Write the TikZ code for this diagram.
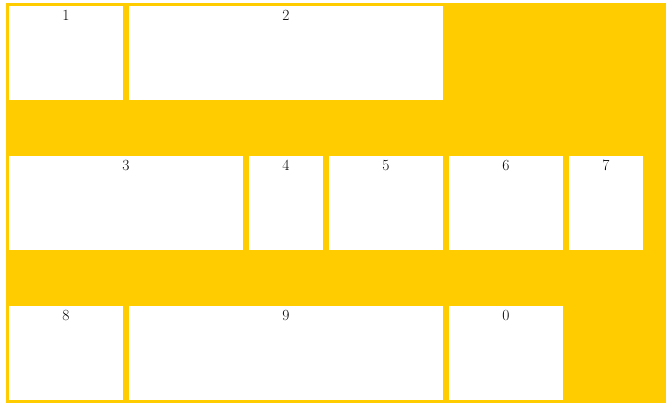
\documentclass[tikz,border=0pt]{standalone}
\begin{document}
\begin{tikzpicture}[
    x=1pt, y=-1pt,
    cell/.style={fill=white, inner sep=0pt, outer sep=0pt,
                 minimum height=94pt, anchor=north west},
    num/.style={font=\fontsize{15.5}{18}\selectfont, anchor=north,
                inner sep=0pt, yshift=-4pt}
  ]
  \definecolor{flexyellow}{RGB}{255,204,0}
  \useasboundingbox (0,0) rectangle (672,413);
  % Container
  \fill[flexyellow] (6,3) rectangle (666,403);
  % Row 1
  \node[cell, minimum width=114pt] (c1) at (9,6) {};
  \node[cell, minimum width=314pt] (c2) at (129,6) {};
  % Row 2
  \node[cell, minimum width=234pt] (c3) at (9,156) {};
  \node[cell, minimum width=74pt] (c4) at (249,156) {};
  \node[cell, minimum width=114pt] (c5) at (329,156) {};
  \node[cell, minimum width=114pt] (c6) at (449,156) {};
  \node[cell, minimum width=74pt] (c7) at (569,156) {};
  % Row 3
  \node[cell, minimum width=114pt] (c8) at (9,306) {};
  \node[cell, minimum width=314pt] (c9) at (129,306) {};
  \node[cell, minimum width=114pt] (c0) at (449,306) {};
  % Numbers
  \node[num] (n1) at (c1.north) {1};
  \node[num] (n2) at (c2.north) {2};
  \node[num] (n3) at (c3.north) {3};
  \node[num] (n4) at (c4.north) {4};
  \node[num] (n5) at (c5.north) {5};
  \node[num] (n6) at (c6.north) {6};
  \node[num] (n7) at (c7.north) {7};
  \node[num] (n8) at (c8.north) {8};
  \node[num] (n9) at (c9.north) {9};
  \node[num] (n0) at (c0.north) {0};
\end{tikzpicture}
\end{document}
